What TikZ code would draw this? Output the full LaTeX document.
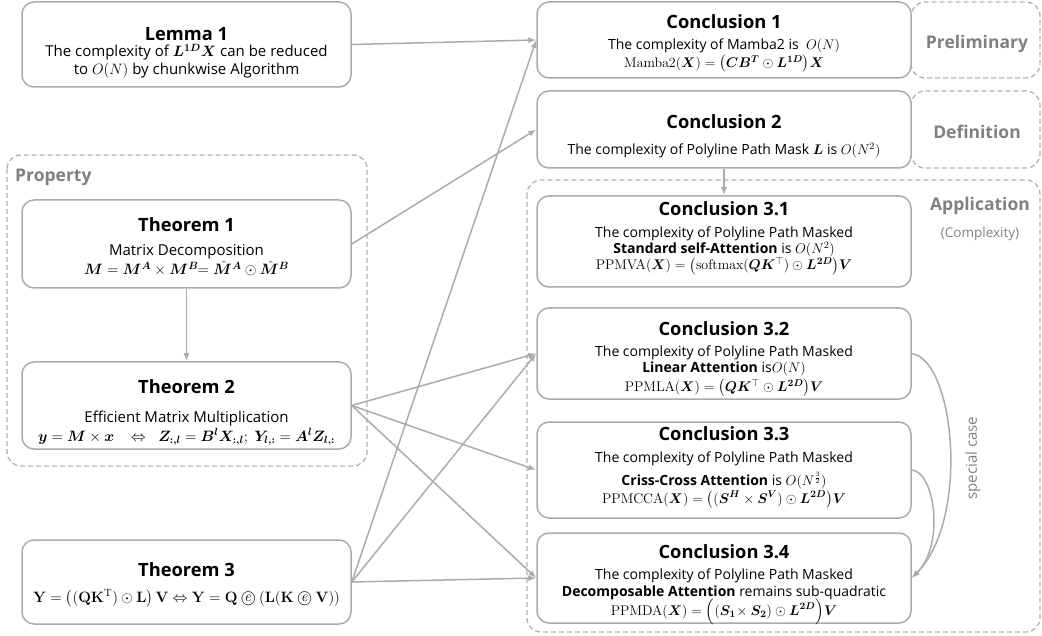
\RequirePackage{fix-cm}
\documentclass[tikz,border=0pt]{standalone}
\usepackage{amsmath}
\usepackage{bm}
\usepackage[no-math]{fontspec}
\setmainfont{Open Sans}
\usetikzlibrary{arrows.meta}
\definecolor{boxgray}{RGB}{172,172,172}
\definecolor{labgray}{RGB}{128,128,128}
\definecolor{dashgray}{RGB}{178,178,178}
\newcommand{\circe}{\mathbin{\ooalign{$\bigcirc$\cr\hidewidth\raisebox{0.08ex}{$\mathit{e}$}\hidewidth\cr}}}
\tikzset{
  box/.style={draw=boxgray, line width=1.5pt, rounded corners=12pt, fill=white, inner sep=0pt},
  grp/.style={draw=dashgray, line width=1.3pt, dashed, dash pattern=on 5pt off 3pt, rounded corners=14pt},
  ttl/.style={inner sep=0pt, anchor=base, font=\fontsize{18.3}{21}\selectfont\bfseries},
  bodyA/.style={inner sep=0pt, anchor=base, font=\fontsize{15}{18}\selectfont},
  bodyB/.style={inner sep=0pt, anchor=base, font=\fontsize{14}{17}\selectfont},
  grplab/.style={inner sep=0pt, anchor=base, text=labgray, font=\fontsize{17.5}{20}\selectfont\bfseries},
  conn/.style={draw=boxgray, line width=1.5pt, -{Latex[length=8pt,width=6pt]}},
}
\begin{document}
\begin{tikzpicture}[x=1pt,y=-1pt]
\useasboundingbox (0,0) rectangle (1042,636);
% group boxes
\draw[grp] (7,155) rectangle (367,466);
\draw[grp] (911,2) rectangle (1040,78);
\draw[grp] (911,91) rectangle (1040,168);
\draw[grp] (527,180) rectangle (1040,632);
\node[grplab, anchor=base west] (lprop) at (15,182) {Property};
\node[grplab] (lprel) at (977,49) {Preliminary};
\node[grplab] (ldef) at (977,139) {Definition};
\node[grplab] (lapp) at (980,211) {Application};
\node[inner sep=0pt, anchor=base, text=labgray, font=\fontsize{13.5}{16}\selectfont] (lcpx) at (980,238) {(Complexity)};
% left boxes
\node[box, minimum width=329pt, minimum height=85pt] (lem) at (186.5,44.5) {};
\node[box, minimum width=329pt, minimum height=88pt] (t1) at (186.5,244) {};
\node[box, minimum width=329pt, minimum height=87pt] (t2) at (186.5,405.5) {};
\node[box, minimum width=329pt, minimum height=84pt] (t3) at (186.5,582) {};
% right boxes
\node[box, minimum width=374pt, minimum height=76pt] (c1) at (724,40) {};
\node[box, minimum width=374pt, minimum height=77pt] (c2) at (724,129.5) {};
\node[box, minimum width=374pt, minimum height=91pt] (c31) at (724,241.5) {};
\node[box, minimum width=374pt, minimum height=91pt] (c32) at (724,353.5) {};
\node[box, minimum width=374pt, minimum height=96pt] (c33) at (724,470) {};
\node[box, minimum width=374pt, minimum height=90pt] (c34) at (724,578) {};
% texts
\node[ttl] (lemT) at (186.5,41) {Lemma 1};
\node[bodyA] (lem1) at (186.5,57) {The complexity of $\bm{L^{1D}X}$ can be reduced};
\node[bodyA] (lem2) at (186.5,75) {to $O(N)$ by chunkwise Algorithm};
\node[ttl] (t1T) at (186.5,232) {Theorem 1};
\node[bodyA] (t1a) at (186.5,256) {Matrix Decomposition};
\node[bodyA] (t1b) at (186.5,275) {$\bm{M} = \bm{M}^{\bm{A}} \times \bm{M}^{\bm{B}}\!\!= \hat{\bm{M}}^{\bm{A}} \odot \hat{\bm{M}}^{\bm{B}}$};
\node[ttl] (t2T) at (186.5,394) {Theorem 2};
\node[bodyA] (t2a) at (186.5,422) {Efficient Matrix Multiplication};
\node[bodyA] (t2b) at (186.5,441) {$\bm{y} = \bm{M} \times \bm{x}\;\;\;\Leftrightarrow\;\; \bm{Z}_{\bm{:,l}} = \bm{B}^{\bm{l}}\bm{X}_{\bm{:,l}};\ \bm{Y}_{\bm{l,:}} = \bm{A}^{\bm{l}}\bm{Z}_{\bm{l,:}}$};
\node[ttl] (t3T) at (186.5,576) {Theorem 3};
\node[bodyA] (t3a) at (186.5,602) {$\mathbf{Y} = \big((\mathbf{Q}\mathbf{K}^{\mathrm{T}}) \odot \mathbf{L}\big)\,\mathbf{V} \Leftrightarrow \mathbf{Y} = \mathbf{Q} \circe \left(\mathbf{L}(\mathbf{K} \circe \mathbf{V})\right)$};
\node[ttl] (c1T) at (724,29) {Conclusion 1};
\node[bodyB] (c1a) at (724,50) {The complexity of Mamba2 is\ \ $O(N)$};
\node[bodyB] (c1b) at (724,67.5) {$\mathrm{Mamba2}(\bm{X}) = \big(\bm{CB}^{\bm{T}} \odot \bm{L}^{\bm{1D}}\big)\bm{X}$};
\node[ttl] (c2T) at (724,129) {Conclusion 2};
\node[bodyB] (c2a) at (724,155) {The complexity of Polyline Path Mask $\bm{L}$ is $O(N^2)$};
\node[ttl] (c31T) at (724,216) {Conclusion 3.1};
\node[bodyB] (c31a) at (724,237.5) {The complexity of Polyline Path Masked};
\node[bodyB] (c31b) at (724,253.5) {\textbf{Standard self-Attention} is $O(N^2)$};
\node[bodyB] (c31c) at (724,270) {$\mathrm{PPMVA}(\bm{X}) = \big(\mathrm{softmax}(\bm{QK}^{\top}) \odot \bm{L}^{\bm{2D}}\big)\bm{V}$};
\node[ttl] (c32T) at (724,336) {Conclusion 3.2};
\node[bodyB] (c32a) at (724,356) {The complexity of Polyline Path Masked};
\node[bodyB] (c32b) at (724,373) {\textbf{Linear Attention} is$O(N)$};
\node[bodyB] (c32c) at (724,391.5) {$\mathrm{PPMLA}(\bm{X}) = \big(\bm{QK}^{\top} \odot \bm{L}^{\bm{2D}}\big)\bm{V}$};
\node[ttl] (c33T) at (724,440) {Conclusion 3.3};
\node[bodyB] (c33a) at (724,462.5) {The complexity of Polyline Path Masked};
\node[bodyB] (c33b) at (724,485.5) {\textbf{Criss-Cross Attention} is $O(N^{\frac{3}{2}})$};
\node[bodyB] (c33c) at (724,503) {$\mathrm{PPMCCA}(\bm{X}) = \big((\bm{S}^{\bm{H}} \times \bm{S}^{\bm{V}}) \odot \bm{L}^{\bm{2D}}\big)\bm{V}$};
\node[ttl] (c34T) at (724,558) {Conclusion 3.4};
\node[bodyB] (c34a) at (724,579.5) {The complexity of Polyline Path Masked};
\node[bodyB] (c34b) at (724,596.5) {\textbf{Decomposable Attention} remains sub-quadratic};
\node[bodyB] (c34c) at (724,615) {$\mathrm{PPMDA}(\bm{X}) = \Big((\bm{S}_{\bm{1}}\!\times \bm{S}_{\bm{2}}) \odot \bm{L}^{\bm{2D}}\Big)\bm{V}$};
% connectors
\draw[conn] (lem.east) -- (c1.west);
\draw[conn] (t1.east) -- (c2.west);
\draw[conn] (t1.south) -- (t2.north);
\draw[conn] (c2.south) -- (c31.north);
\draw[conn] (t2.east) -- (c32.west);
\draw[conn] (t2.east) -- (c33.west);
\draw[conn] (t2.east) -- (c34.west);
\draw[conn] (t3.east) -- (c1.west);
\draw[conn] (t3.east) -- (c32.west);
\draw[conn] (t3.east) -- (c34.west);
\draw[conn] (c32.east) .. controls (955,360) and (970,520) .. (c34.east);
\draw[conn] (c33.east) .. controls (935,472) and (945,545) .. (c34.east);
\node[inner sep=0pt, rotate=90, text=labgray, font=\fontsize{15}{18}\selectfont] (sc) at (973,458) {special case};
\end{tikzpicture}
\end{document}
